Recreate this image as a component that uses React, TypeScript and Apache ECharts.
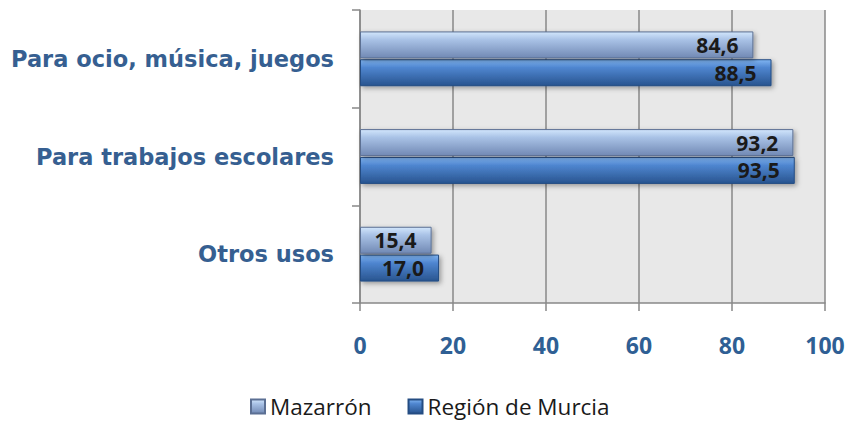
import React, { useEffect, useRef } from "react";
import * as echarts from "echarts";

const categories = ["Otros usos", "Para trabajos escolares", "Para ocio, música, juegos"];
const mazarron = [15.4, 93.2, 84.6];
const murcia = [17.0, 93.5, 88.5];
const seriesNames = ["Mazarrón", "Región de Murcia"];
const xTicks = { min: 0, max: 100, interval: 20 };

const fmt = (v: number) => v.toFixed(1).replace(".", ",");

export default function App() {
  const ref = useRef<HTMLDivElement>(null);
  useEffect(() => {
    document.body.style.margin = "0";
    const chart = echarts.init(ref.current!, null, { renderer: "svg" });
    const gradLight = new echarts.graphic.LinearGradient(0, 0, 0, 1, [
      { offset: 0, color: "#d2e6fc" },
      { offset: 0.3, color: "#a9c2e6" },
      { offset: 1, color: "#7189b4" },
    ]);
    const gradDark = new echarts.graphic.LinearGradient(0, 0, 0, 1, [
      { offset: 0, color: "#80b5f2" },
      { offset: 0.3, color: "#4f86d0" },
      { offset: 1, color: "#28548f" },
    ]);
    const labelStyle = {
      show: true,
      position: "insideRight" as const,
      formatter: (p: any) => fmt(p.value),
      fontFamily: "Open Sans",
      fontWeight: "bold" as const,
      fontSize: 21,
      lineHeight: 22,
      color: "#1a1a1a",
      distance: 15,
    };
    chart.setOption({
      animation: false,
      grid: {
        left: 360,
        right: 24,
        top: 10,
        bottom: 121,
        show: true,
        backgroundColor: "#e8e8e8",
        borderWidth: 0,
      },
      legend: {
        top: 390,
        left: 245,
        itemWidth: 14,
        itemHeight: 14,
        itemGap: 36,
        icon: "rect",
        textStyle: {
          fontFamily: "Open Sans",
          fontSize: 22.5,
          color: "#1a1a1a",
        },
        data: seriesNames,
      },
      xAxis: {
        type: "value",
        min: xTicks.min,
        max: xTicks.max,
        interval: xTicks.interval,
        axisLine: { show: true, lineStyle: { color: "#888", width: 1.5 } },
        axisTick: { show: true, length: 8, lineStyle: { color: "#888", width: 1.5 } },
        splitLine: { show: true, lineStyle: { color: "#888", width: 1.5 } },
        axisLabel: {
          margin: 30,
          fontFamily: "Open Sans",
          fontWeight: "bold",
          fontSize: 23,
          color: "#2f5f94",
        },
      },
      yAxis: {
        type: "category",
        data: categories,
        axisLine: { show: true, lineStyle: { color: "#888", width: 1.5 } },
        axisTick: { show: true, length: 8, lineStyle: { color: "#888", width: 1.5 } },
        axisLabel: {
          margin: 26,
          fontFamily: "DejaVu Sans",
          fontWeight: "bold",
          fontSize: 22.5,
          color: "#365f91",
        },
      },
      series: [
        {
          name: seriesNames[0],
          type: "bar",
          data: mazarron,
          barWidth: 27,
          barGap: "3%",
          itemStyle: {
            color: gradLight,
            borderColor: "#5b6f93",
            borderWidth: 1,
            shadowBlur: 5,
            shadowOffsetX: 2,
            shadowOffsetY: 2,
            shadowColor: "rgba(0,0,0,0.35)",
          },
          label: labelStyle,
          z: 3,
        },
        {
          name: seriesNames[1],
          type: "bar",
          data: murcia,
          barWidth: 27,
          itemStyle: {
            color: gradDark,
            borderColor: "#244c82",
            borderWidth: 1,
            shadowBlur: 5,
            shadowOffsetX: 2,
            shadowOffsetY: 2,
            shadowColor: "rgba(0,0,0,0.35)",
          },
          label: labelStyle,
          z: 2,
        },
      ],
    });
    return () => chart.dispose();
  }, []);
  return <div ref={ref} style={{ width: 849, height: 424 }} />;
}
